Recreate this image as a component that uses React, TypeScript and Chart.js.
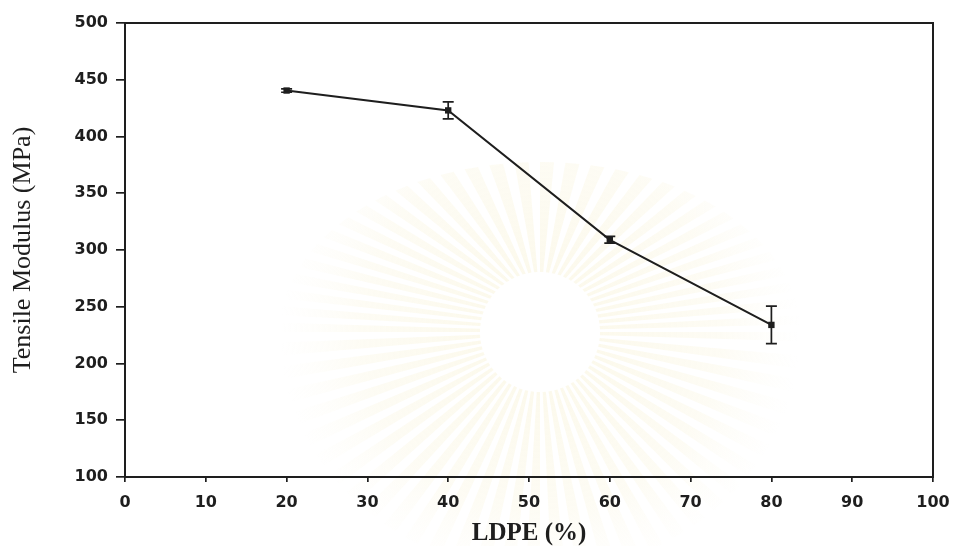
import React, { useEffect, useRef } from "react";
import { Chart, registerables } from "chart.js";

Chart.register(...registerables);

// LDPE content (%) and measured tensile modulus (MPa) with standard deviations
const ldpePercent = [20, 40, 60, 80];
const tensileModulus = [440.5, 423, 309, 234];
const modulusError = [1.5, 7.5, 3, 16.5];

const xTitle = "LDPE (%)";
const yTitle = "Tensile Modulus (MPa)";

const INK = "#1e1e1e";

// Faint emblem watermark behind everything
const watermarkPlugin = {
  id: "watermark",
  beforeDraw(chart: any) {
    const { ctx } = chart;
    const cx = 540;
    const cy = 332;
    const n = 64;
    ctx.save();
    for (let i = 0; i < n; i++) {
      const a0 = (i / n) * Math.PI * 2;
      const a1 = a0 + ((Math.PI * 2) / n) * 0.55;
      const rIn = 60;
      const rx = 260;
      const ry = a0 > 0 && a0 < Math.PI ? 240 : 170;
      const g = ctx.createRadialGradient(cx, cy, rIn, cx, cy, rx);
      g.addColorStop(0, "rgba(246,238,200,0.34)");
      g.addColorStop(0.6, "rgba(248,242,212,0.26)");
      g.addColorStop(1, "rgba(250,246,228,0)");
      ctx.fillStyle = g;
      ctx.beginPath();
      ctx.moveTo(cx + Math.cos(a0) * rIn, cy + Math.sin(a0) * rIn);
      ctx.lineTo(cx + Math.cos(a0) * rx, cy + Math.sin(a0) * ry);
      ctx.lineTo(cx + Math.cos(a1) * rx, cy + Math.sin(a1) * ry);
      ctx.lineTo(cx + Math.cos(a1) * rIn, cy + Math.sin(a1) * rIn);
      ctx.closePath();
      ctx.fill();
    }
    ctx.restore();
  },
};

// Vertical error bars with caps
const errorBarPlugin = {
  id: "errorBars",
  afterDatasetsDraw(chart: any) {
    const { ctx } = chart;
    const xs = chart.scales.x;
    const ys = chart.scales.y;
    ctx.save();
    ctx.strokeStyle = INK;
    ctx.lineWidth = 1.7;
    ldpePercent.forEach((v, i) => {
      const err = modulusError[i];
      const x = xs.getPixelForValue(v);
      const yTop = ys.getPixelForValue(tensileModulus[i] + err);
      const yBot = ys.getPixelForValue(tensileModulus[i] - err);
      const cap = 5.5;
      ctx.beginPath();
      ctx.moveTo(x, yTop);
      ctx.lineTo(x, yBot);
      ctx.moveTo(x - cap, yTop);
      ctx.lineTo(x + cap, yTop);
      ctx.moveTo(x - cap, yBot);
      ctx.lineTo(x + cap, yBot);
      ctx.stroke();
    });
    ctx.restore();
  },
};

// Closed frame around the plot area
const framePlugin = {
  id: "frame",
  afterDraw(chart: any) {
    const { ctx, chartArea } = chart;
    ctx.save();
    ctx.strokeStyle = INK;
    ctx.lineWidth = 2;
    ctx.strokeRect(
      chartArea.left,
      chartArea.top,
      chartArea.right - chartArea.left,
      chartArea.bottom - chartArea.top
    );
    ctx.restore();
  },
};

export default function App() {
  const canvasRef = useRef<HTMLCanvasElement | null>(null);

  useEffect(() => {
    if (!canvasRef.current) return;
    const tickFont = { family: "'DejaVu Sans', sans-serif", size: 16, weight: "bold" as const };
    const chart = new Chart(canvasRef.current, {
      type: "line",
      data: {
        datasets: [
          {
            data: ldpePercent.map((x, i) => ({ x, y: tensileModulus[i] })),
            borderColor: INK,
            borderWidth: 2,
            backgroundColor: INK,
            pointStyle: "rect",
            pointRadius: 4.5,
            pointBorderWidth: 0,
            tension: 0,
          },
        ],
      },
      options: {
        animation: false,
        responsive: false,
        maintainAspectRatio: false,
        layout: { padding: { left: 0, right: 20, top: 23, bottom: 0 } },
        plugins: {
          legend: { display: false },
          tooltip: { enabled: false },
        },
        scales: {
          x: {
            type: "linear",
            min: 0,
            max: 100,
            ticks: { stepSize: 10, color: INK, font: tickFont, padding: 11, maxRotation: 0 },
            grid: { drawOnChartArea: false, drawTicks: true, tickLength: 5, color: INK, lineWidth: 1.7 },
            border: { display: true, color: INK, width: 2 },
            title: {
              display: true,
              text: xTitle,
              color: INK,
              font: { family: "'Liberation Serif', serif", size: 25, weight: "bold", lineHeight: 1 },
              padding: { top: 0, bottom: 0 },
            },
            afterFit(scale: any) {
              scale.height = 69;
              scale.paddingLeft = 0;
              scale.paddingRight = 0;
            },
          },
          y: {
            type: "linear",
            min: 100,
            max: 500,
            ticks: { stepSize: 50, color: INK, font: tickFont, padding: 8 },
            grid: { drawOnChartArea: false, drawTicks: true, tickLength: 9, color: INK, lineWidth: 1.7 },
            border: { display: true, color: INK, width: 2 },
            title: {
              display: true,
              text: yTitle,
              color: INK,
              font: { family: "'Liberation Serif', serif", size: 26, weight: "normal", lineHeight: 1 },
              padding: { top: 10, bottom: 0 },
            },
            afterFit(scale: any) {
              scale.width = 125;
            },
          },
        },
      },
      plugins: [watermarkPlugin, errorBarPlugin, framePlugin],
    });
    return () => chart.destroy();
  }, []);

  return (
    <div style={{ position: "absolute", left: 0, top: 0, width: 953, height: 546, background: "#ffffff" }}>
      <canvas ref={canvasRef} width={953} height={546} />
    </div>
  );
}
